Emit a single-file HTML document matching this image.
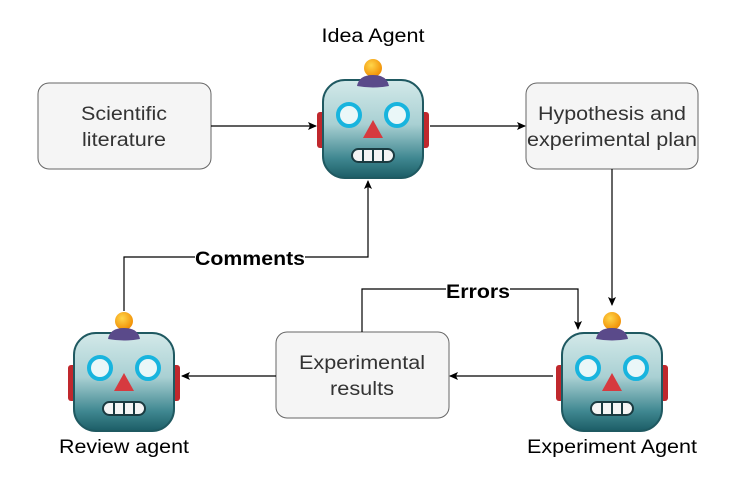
<!DOCTYPE html>
<html><head><style>
body{margin:0;background:#fff;}
svg{display:block;font-family:"Liberation Sans",Arial,sans-serif;}
</style></head><body>
<svg width="741" height="484" viewBox="0 0 741 484" xmlns="http://www.w3.org/2000/svg">
<defs>
<linearGradient id="hd" x1="0" y1="0" x2="0" y2="1">
<stop offset="0" stop-color="#d3e9e9"/><stop offset="0.45" stop-color="#a9d0d3"/><stop offset="0.8" stop-color="#3f8790"/><stop offset="1" stop-color="#1c5d66"/></linearGradient>
<radialGradient id="bl" cx="0.4" cy="0.35" r="0.7"><stop offset="0" stop-color="#ffd64a"/><stop offset="1" stop-color="#f08a00"/></radialGradient>
<marker id="ar" markerWidth="10" markerHeight="10" refX="8" refY="5" orient="auto" markerUnits="userSpaceOnUse"><path d="M0,1 L9,5 L0,9 L2,5 Z" fill="#000"/></marker>
<g id="robot">
<rect x="-56" y="54" width="10" height="36" rx="3" fill="#c0282d"/>
<rect x="46" y="54" width="10" height="36" rx="3" fill="#c0282d"/>
<circle cx="0" cy="10" r="9" fill="url(#bl)"/>
<rect x="-50" y="22" width="100" height="98" rx="22" fill="url(#hd)" stroke="#1f5961" stroke-width="2"/>
<path d="M-16,28 Q-14,17 0,17 Q14,17 16,28 Q0,31 -16,28Z" fill="#5a4a8a"/>
<circle cx="-24" cy="57" r="11" fill="#eaf7f8" stroke="#18b4de" stroke-width="4"/>
<circle cx="24" cy="57" r="11" fill="#eaf7f8" stroke="#18b4de" stroke-width="4"/>
<path d="M0,62 L-10,80 L10,80Z" fill="#d63a3f"/>
<rect x="-21" y="91" width="42" height="13" rx="6.5" fill="#f4f4f4" stroke="#1a3a40" stroke-width="2"/>
<path d="M-10,91V104M0,91V104M10,91V104" stroke="#1a3a40" stroke-width="2"/>
</g>
</defs>
<g fill="#f5f5f5" stroke="#666" stroke-width="1">
<rect x="38" y="83" width="173" height="86" rx="11"/>
<rect x="526" y="83" width="172" height="86" rx="11"/>
<rect x="276" y="332" width="173" height="86" rx="11"/>
</g>
<g fill="none" stroke="#000" stroke-width="1.2" marker-end="url(#ar)">
<path d="M211,126 H316"/>
<path d="M430,126 H525"/>
<path d="M612,169 V305"/>
<path d="M362,332 V289 H578 V329"/>
<path d="M553,376 H450"/>
<path d="M276,376 H182"/>
<path d="M124,311 V257 H368 V181"/>
</g>
<use href="#robot" x="373" y="58"/>
<use href="#robot" x="124" y="311"/>
<use href="#robot" x="612" y="311"/>
<g font-size="19" fill="#333" text-anchor="middle">
<text x="124" y="120" textLength="86" lengthAdjust="spacingAndGlyphs">Scientific</text><text x="124" y="146" textLength="84" lengthAdjust="spacingAndGlyphs">literature</text>
<text x="612" y="120" textLength="148" lengthAdjust="spacingAndGlyphs">Hypothesis and</text><text x="612" y="146" textLength="170" lengthAdjust="spacingAndGlyphs">experimental plan</text>
<text x="362" y="369" textLength="126" lengthAdjust="spacingAndGlyphs">Experimental</text><text x="362" y="395" textLength="64" lengthAdjust="spacingAndGlyphs">results</text>
</g>
<g font-size="19" fill="#000" text-anchor="middle">
<text x="373" y="42" textLength="103" lengthAdjust="spacingAndGlyphs">Idea Agent</text>
<text x="124" y="453" textLength="130" lengthAdjust="spacingAndGlyphs">Review agent</text>
<text x="612" y="453" textLength="170" lengthAdjust="spacingAndGlyphs">Experiment Agent</text>
</g>
<g font-size="19" font-weight="bold" text-anchor="middle">
<rect x="195" y="247" width="110" height="20" fill="#fff"/>
<text x="250" y="265" textLength="110" lengthAdjust="spacingAndGlyphs">Comments</text>
<rect x="446" y="280" width="64" height="20" fill="#fff"/>
<text x="478" y="298" textLength="64" lengthAdjust="spacingAndGlyphs">Errors</text>
</g>
</svg>
</body></html>
